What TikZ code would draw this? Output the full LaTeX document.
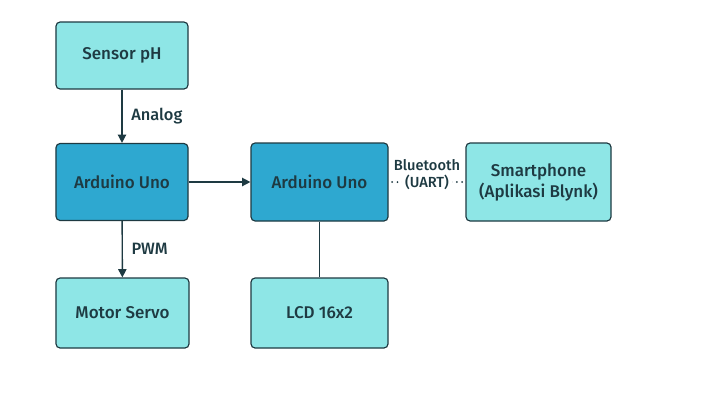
\documentclass[tikz,border=0pt]{standalone}
\usepackage{fontspec}
\setmainfont{Fira Sans}[UprightFont=* Medium]
\usetikzlibrary{arrows.meta}
\definecolor{boxlight}{HTML}{8EE6E6}
\definecolor{boxdark}{HTML}{2EA8D0}
\definecolor{linedark}{HTML}{1E3A42}
\tikzset{blockl/.style={draw=linedark, line width=1pt, fill=boxlight, rounded corners=3.5pt,
		text=linedark, align=center, font=\fontsize{14.5}{18}\selectfont}}
\tikzset{blockd/.style={blockl, fill=boxdark}}
\tikzset{link/.style={draw=linedark, line width=1.2pt, -{Triangle[length=7pt,width=7pt]}}}
\tikzset{linklbl/.style={text=linedark, font=\fontsize{14}{17}\selectfont}}
\tikzset{btlbl/.style={text=linedark, font=\fontsize{12.5}{15}\selectfont}}

\begin{document}
\begin{tikzpicture}[x=0.03cm, y=-0.03cm]
  \useasboundingbox[fill=white] (0,0) rectangle (711,407);

  \node[blockl, minimum width=3.96cm, minimum height=2.01cm] (sensor) at (122,55.5) {Sensor pH};
  \node[blockd, minimum width=3.96cm, minimum height=2.31cm] (unoA) at (122,182) {Arduino Uno};
  \node[blockl, minimum width=3.99cm, minimum height=2.1cm] (servo) at (122.5,313) {Motor Servo};
  \node[blockd, minimum width=4.11cm, minimum height=2.34cm] (unoB) at (319.5,182) {Arduino Uno};
  \node[blockl, minimum width=4.11cm, minimum height=2.1cm] (lcd) at (319.5,313) {LCD 16x2};
  \node[blockl, minimum width=4.35cm, minimum height=2.34cm] (phone) at (538.5,182) {Smartphone\\(Aplikasi Blynk)};

  \draw[link] (sensor) -- (unoA) node[midway, right=4pt, linklbl]{Analog};
  \draw[link] (unoA) -- (servo) node[midway, right=4pt, linklbl]{PWM};
  \draw[link] (unoA) -- (unoB);
  \draw[draw=linedark, line width=1.4pt] (unoB) -- (lcd);
  \draw[draw=linedark, line width=1.7pt, line cap=round, dash phase=-3pt, dash pattern=on 0pt off 4.6pt] (unoB) -- (phone)
    node[midway, fill=white, inner xsep=2.5pt, inner ysep=1pt, btlbl] (uart) {(UART)};
  \node[btlbl, inner sep=1pt, anchor=south] (bt) at (uart.north) {Bluetooth};
\end{tikzpicture}
\end{document}
